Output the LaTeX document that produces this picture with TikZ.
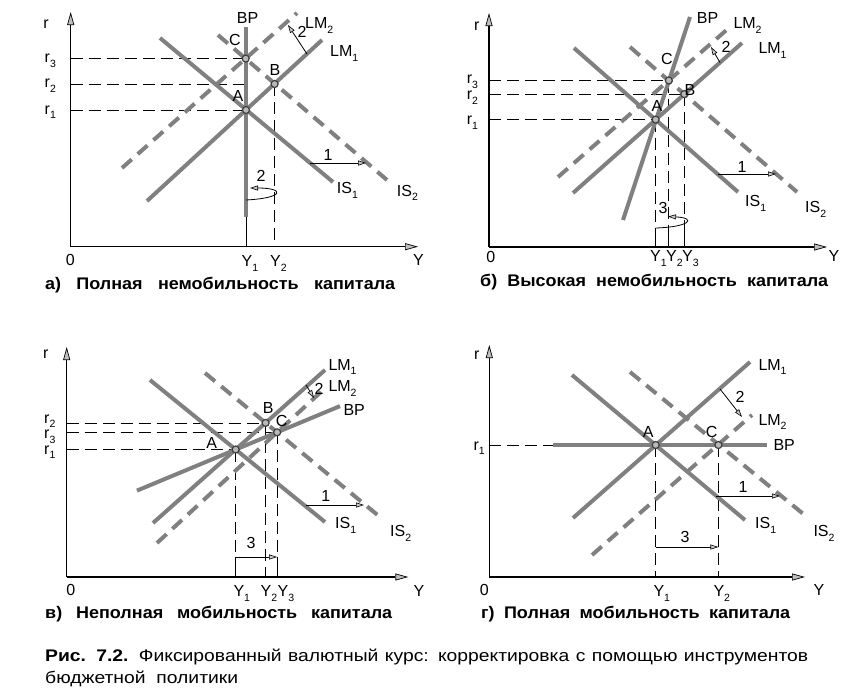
\documentclass[tikz,border=0pt]{standalone}
\usepackage{fontspec}
\setmainfont{Liberation Sans}
\newfontfamily\capfont[FakeStretch=1.15]{Liberation Sans}
\newfontfamily\panelfont[FakeStretch=1.07]{Liberation Sans}
\usetikzlibrary{arrows.meta}
\definecolor{curvegray}{gray}{0.5}
\newcommand\sbs[1]{\raisebox{-0.3em}{\fontsize{10.5}{10.5}\selectfont #1}}
\tikzset{
  solidline/.style={draw=curvegray, line width=4pt},
  dashline/.style={draw=curvegray, line width=4pt, dash pattern=on 13pt off 8pt},
  guide/.style={draw=black, line width=0.8pt, dash pattern=on 12pt off 6pt},
  guideline/.style={draw=black, line width=0.8pt},
  axis/.style={draw=black, line width=1.1pt, -{Triangle[length=13pt,width=7pt,line width=0.7pt,fill=gray!50]}},
  shiftarrow/.style={draw=black, line width=0.8pt, -{Triangle[length=8pt,width=5pt,line width=0.6pt,fill=gray!40]}},
  eqpoint/.style={circle, draw=black!75, fill=gray!55, line width=1.2pt, inner sep=0pt, minimum size=7pt},
  lab/.style={font=\fontsize{16}{16}\selectfont, inner sep=0pt},
  labbw/.style={lab, anchor=base west},
  panelcap/.style={font=\panelfont\bfseries\fontsize{16.8}{16.8}\selectfont, inner sep=0pt, anchor=base west},
  figcap/.style={font=\capfont\fontsize{16.8}{16.8}\selectfont, inner sep=0pt, anchor=base west},
}
\begin{document}
\begin{tikzpicture}[x=1pt,y=-1pt]
\useasboundingbox (0,0) rectangle (862,699);
\fill[white] (0,0) rectangle (862,699);

% ================= Panel a =================
\coordinate (aO) at (70.7,246.7);
\coordinate (aRt) at (70.7,12);
\coordinate (aYt) at (418,246.7);
\coordinate (aA) at (246,110);
\coordinate (aB) at (274.6,84);
\coordinate (aC) at (245.7,58.6);
\coordinate (aBPt) at (245.7,27);
\coordinate (aBPb) at (245.7,217);
\coordinate (aIS1s) at (160,38);  \coordinate (aIS1e) at (333,182);
\coordinate (aIS2s) at (218,35);  \coordinate (aIS2e) at (387,180);
\coordinate (aLM1s) at (147,201); \coordinate (aLM1e) at (322,40);
\coordinate (aLM2s) at (122,168); \coordinate (aLM2e) at (297,13);

\draw[guide] (aA -| aO) -- (aA);
\draw[guide] (aB -| aO) -- (aB -| aBPt);
\draw[guide] (aC -| aO) -- (aC);
\draw[guideline] (aA) -- (aA |- aO);
\draw[guide] (aB) -- (aB |- aO);
\draw[axis] (aO) -- (aRt);
\draw[axis] (aO) -- (aYt);

\draw[solidline] (aIS1s) -- (aIS1e);
\draw[dashline] (aIS2s) -- (aIS2e);
\draw[solidline] (aLM1s) -- (aLM1e);
\draw[dashline] (aLM2s) -- (aLM2e);
\draw[solidline] (aBPt) -- (aBPb);

\node[eqpoint] (aPA) at (aA) {};
\node[eqpoint] (aPB) at (aB) {};
\node[eqpoint] (aPC) at (aC) {};

\coordinate (a1s) at (310,163); \coordinate (a1e) at (366,163);
\draw[shiftarrow] (a1s) -- (a1e);
\node[lab] (a1l) at (328,155) {1};
\coordinate (a2s) at (307,54); \coordinate (a2e) at (288,25);
\draw[shiftarrow] (a2s) -- (a2e);
\node[lab] (a2l) at (302,32) {2};
\coordinate (a3s) at (246,200); \coordinate (a3e) at (250,188);
\draw[shiftarrow] (a3s) .. controls (285,198) and (285,188) .. (a3e);
\node[lab] (a3l) at (261,176) {2};

\node[lab] (arl) at (46,24) {r};
\node[labbw] (ar3) at (44.5,62.5) {r\sbs{3}};
\node[labbw] (ar2) at (44.5,87.5) {r\sbs{2}};
\node[labbw] (ar1) at (44.5,114) {r\sbs{1}};
\node[lab] (a0) at (70.3,259.5) {0};
\node[labbw] (aYl) at (413,265) {Y};
\node[labbw] (aY1) at (241.5,266.5) {Y\sbs{1}};
\node[labbw] (aY2) at (270,266.5) {Y\sbs{2}};
\node[labbw] (aBPl) at (236.7,23.3) {BP};
\node[labbw] (aLM2l) at (305,28.3) {LM\sbs{2}};
\node[labbw] (aLM1l) at (330,56.7) {LM\sbs{1}};
\node[labbw] (aIS1l) at (336.7,193.3) {IS\sbs{1}};
\node[labbw] (aIS2l) at (396.7,196) {IS\sbs{2}};
\node[lab] (aAl) at (238,96) {A};
\node[lab] (aBl) at (275,70) {B};
\node[lab] (aCl) at (235,40) {C};
\node[panelcap] (acap) at (45,289.3) {\makebox[350pt][s]{а) Полная немобильность капитала}};

% ================= Panel b =================
\coordinate (bO) at (489,247);
\coordinate (bRt) at (489,13);
\coordinate (bYt) at (827,247);
\coordinate (bA) at (655.6,119.6);
\coordinate (bB) at (684.3,94.1);
\coordinate (bC) at (668.8,80.5);
\coordinate (bIS1s) at (574,48);  \coordinate (bIS1e) at (738,192);
\coordinate (bIS2s) at (630,47);  \coordinate (bIS2e) at (797,192);
\coordinate (bLM1s) at (573,193); \coordinate (bLM1e) at (742,43);
\coordinate (bLM2s) at (558,177); \coordinate (bLM2e) at (730,27);
\coordinate (bBPs) at (623,220);  \coordinate (bBPe) at (690,17);

\draw[guide] (bA -| bO) -- (bA);
\draw[guide] (bB -| bO) -- (bB);
\draw[guide] (bC -| bO) -- (bC);
\draw[guide] (bA) -- (bA |- bO);
\draw[guide] (bC) -- (bC |- bO);
\draw[guide] (bB) -- (bB |- bO);
\coordinate (b3L) at (655.6,228); \coordinate (b3Lb) at (655.6,247);
\coordinate (b3M) at (668.8,228); \coordinate (b3Mb) at (668.8,247);
\coordinate (b3R) at (684.3,223); \coordinate (b3Rb) at (684.3,247);
\draw[guideline] (b3L) -- (b3Lb);
\draw[guideline] (b3M) -- (b3Mb);
\draw[guideline] (b3R) -- (b3Rb);
\draw[axis] (bO) -- (bRt);
\draw[axis] (bO) -- (bYt);

\draw[solidline] (bIS1s) -- (bIS1e);
\draw[dashline] (bIS2s) -- (bIS2e);
\draw[solidline] (bLM1s) -- (bLM1e);
\draw[dashline] (bLM2s) -- (bLM2e);
\draw[solidline] (bBPs) -- (bBPe);

\node[eqpoint] (bPA) at (bA) {};
\node[eqpoint] (bPB) at (bB) {};
\node[eqpoint] (bPC) at (bC) {};

\coordinate (b1s) at (718,174); \coordinate (b1e) at (776,174);
\draw[shiftarrow] (b1s) -- (b1e);
\node[lab] (b1l) at (742,167) {1};
\coordinate (b2s) at (720,62.5); \coordinate (b2e) at (711,47);
\draw[shiftarrow] (b2s) -- (b2e);
\node[lab] (b2l) at (726,47) {2};
\coordinate (b3e) at (668,216.5);
\draw[shiftarrow] (b3L) .. controls (690,227) and (697,218) .. (b3e);
\node[lab] (b3l) at (663,208) {3};

\node[lab] (brl) at (476.7,25.8) {r};
\node[labbw] (br3) at (466.7,83.3) {r\sbs{3}};
\node[labbw] (br2) at (466.7,99.7) {r\sbs{2}};
\node[labbw] (br1) at (466.7,124.7) {r\sbs{1}};
\node[lab] (b0) at (490.8,256.7) {0};
\node[labbw] (bYl) at (828.3,261.7) {Y};
\node[labbw] (bY1) at (650,261.7) {Y\sbs{1}};
\node[labbw] (bY2) at (666,261.7) {Y\sbs{2}};
\node[labbw] (bY3) at (682,261.7) {Y\sbs{3}};
\node[labbw] (bBPl) at (696.7,23.3) {BP};
\node[labbw] (bLM2l) at (733.3,28.3) {LM\sbs{2}};
\node[labbw] (bLM1l) at (758.3,53.3) {LM\sbs{1}};
\node[labbw] (bIS1l) at (745,206.7) {IS\sbs{1}};
\node[labbw] (bIS2l) at (805,212.7) {IS\sbs{2}};
\node[lab] (bAl) at (657,106) {A};
\node[lab] (bBl) at (690,90) {B};
\node[lab] (bCl) at (667,59) {C};
\node[panelcap] (bcap) at (480,286.7) {\makebox[348pt][s]{б) Высокая немобильность капитала}};

% ================= Panel c =================
\coordinate (cO) at (66.7,577);
\coordinate (cRt) at (66.7,347);
\coordinate (cYt) at (408.3,577);
\coordinate (cA) at (235.7,449.5);
\coordinate (cB) at (265.6,422.9);
\coordinate (cC) at (277.1,432.3);
\coordinate (cIS1s) at (150,380);  \coordinate (cIS1e) at (325,522);
\coordinate (cIS2s) at (205,373);  \coordinate (cIS2e) at (380,517);
\coordinate (cLM1s) at (153,523);  \coordinate (cLM1e) at (325,370);
\coordinate (cLM2s) at (157,543);  \coordinate (cLM2e) at (323,390);
\coordinate (cBPs) at (137,490.6); \coordinate (cBPe) at (340,406.1);
\coordinate (c3a) at (235.7,577); \coordinate (c3b) at (235.7,557);
\coordinate (c3c) at (277.1,557); \coordinate (c3d) at (277.1,577);

\draw[guide] (cA -| cO) -- (cA);
\draw[guide] (cB -| cO) -- (cB);
\draw[guide] (cC -| cO) -- (cC);
\draw[guide] (cA) -- (c3b);
\draw[guide] (cC) -- (c3c);
\draw[guide] (cB) -- (cB |- cO);
\draw[guideline] (c3a) -- (c3b);
\draw[shiftarrow] (c3b) -- (c3c);
\draw[guideline] (c3c) -- (c3d);
\draw[axis] (cO) -- (cRt);
\draw[axis] (cO) -- (cYt);

\draw[solidline] (cIS1s) -- (cIS1e);
\draw[dashline] (cIS2s) -- (cIS2e);
\draw[solidline] (cLM1s) -- (cLM1e);
\draw[dashline] (cLM2s) -- (cLM2e);
\draw[solidline] (cBPs) -- (cBPe);

\node[eqpoint] (cPA) at (cA) {};
\node[eqpoint] (cPB) at (cB) {};
\node[eqpoint] (cPC) at (cC) {};

\coordinate (c1s) at (306,505); \coordinate (c1e) at (364,505);
\draw[shiftarrow] (c1s) -- (c1e);
\node[lab] (c1l) at (325.8,496) {1};
\coordinate (c2s) at (306,385); \coordinate (c2e) at (314,398);
\draw[shiftarrow] (c2s) -- (c2e);
\node[lab] (c2l) at (319,389) {2};
\node[lab] (c3l) at (251,543) {3};

\node[lab] (crl) at (45.8,354) {r};
\node[labbw] (cr2) at (44,423) {r\sbs{2}};
\node[labbw] (cr3) at (44,438.5) {r\sbs{3}};
\node[labbw] (cr1) at (44,454) {r\sbs{1}};
\node[lab] (c0) at (70.8,590) {0};
\node[labbw] (cYl) at (413.3,596.7) {Y};
\node[labbw] (cY1) at (233.3,596.7) {Y\sbs{1}};
\node[labbw] (cY2) at (260.5,596.7) {Y\sbs{2}};
\node[labbw] (cY3) at (277.5,596.7) {Y\sbs{3}};
\node[labbw] (cIS1l) at (335,528.3) {IS\sbs{1}};
\node[labbw] (cIS2l) at (390,536.7) {IS\sbs{2}};
\node[labbw] (cLM1l) at (328.3,370) {LM\sbs{1}};
\node[labbw] (cLM2l) at (328.3,391.7) {LM\sbs{2}};
\node[labbw] (cBPl) at (343.3,415) {BP};
\node[lab] (cAl) at (211.7,443.3) {A};
\node[lab] (cBl) at (268.3,408.3) {B};
\node[lab] (cCl) at (281.7,420.8) {C};
\node[panelcap] (ccap) at (45,618.3) {\makebox[347pt][s]{в) Неполная мобильность капитала}};

% ================= Panel d =================
\coordinate (dO) at (489.3,577);
\coordinate (dRt) at (489.3,345);
\coordinate (dYt) at (805,577);
\coordinate (dA) at (655.7,445);
\coordinate (dC) at (718.4,445);
\coordinate (dIS1s) at (572,375);  \coordinate (dIS1e) at (745,520);
\coordinate (dIS2s) at (630,372);  \coordinate (dIS2e) at (807,517);
\coordinate (dLM1s) at (573,518);  \coordinate (dLM1e) at (750,362);
\coordinate (dLM2s) at (592,555);  \coordinate (dLM2e) at (752,415);
\coordinate (dBPs) at (553,445);   \coordinate (dBPe) at (767,445);

\draw[guide] (dA -| dO) -- (dBPs);
\draw[guide] (dA) -- (dA |- dO);
\draw[guide] (dC) -- (dC |- dO);
\draw[axis] (dO) -- (dRt);
\draw[axis] (dO) -- (dYt);

\draw[solidline] (dIS1s) -- (dIS1e);
\draw[dashline] (dIS2s) -- (dIS2e);
\draw[solidline] (dLM1s) -- (dLM1e);
\draw[dashline] (dLM2s) -- (dLM2e);
\draw[solidline] (dBPs) -- (dBPe);

\node[eqpoint] (dPA) at (dA) {};
\node[eqpoint] (dPC) at (dC) {};

\coordinate (d3s) at (655.7,547); \coordinate (d3e) at (718.4,547);
\draw[shiftarrow] (d3s) -- (d3e);
\node[lab] (d3l) at (685,537) {3};
\coordinate (d1s) at (716.4,496); \coordinate (d1e) at (780,496);
\draw[shiftarrow] (d1s) -- (d1e);
\node[lab] (d1l) at (743,487) {1};
\coordinate (d2s) at (720,389); \coordinate (d2e) at (742,417);
\draw[shiftarrow] (d2s) -- (d2e);
\node[lab] (d2l) at (740,397) {2};

\node[lab] (drl) at (476.7,355) {r};
\node[labbw] (dr1) at (473.3,450) {r\sbs{1}};
\node[lab] (d0) at (484.2,590) {0};
\node[labbw] (dYl) at (813.3,595) {Y};
\node[labbw] (dY1) at (653.3,596.7) {Y\sbs{1}};
\node[labbw] (dY2) at (713.3,596.7) {Y\sbs{2}};
\node[labbw] (dIS1l) at (755,528.3) {IS\sbs{1}};
\node[labbw] (dIS2l) at (813.3,536.7) {IS\sbs{2}};
\node[labbw] (dLM1l) at (758.3,370) {LM\sbs{1}};
\node[labbw] (dLM2l) at (758.3,425) {LM\sbs{2}};
\node[labbw] (dBPl) at (773.3,450) {BP};
\node[lab] (dAl) at (648.3,431.7) {A};
\node[lab] (dCl) at (711.7,431.7) {C};
\node[panelcap] (dcap) at (481,618.3) {\makebox[309pt][s]{г) Полная мобильность капитала}};

% ================= Figure caption =================
\node[figcap] (fig1) at (45,661)
  {\makebox[763pt][s]{\textbf{Рис. 7.2.} Фиксированный валютный курс: корректировка с помощью инструментов}};
\node[figcap] (fig2) at (45,683)
  {бюджетной\ \ политики};
\end{tikzpicture}
\end{document}
